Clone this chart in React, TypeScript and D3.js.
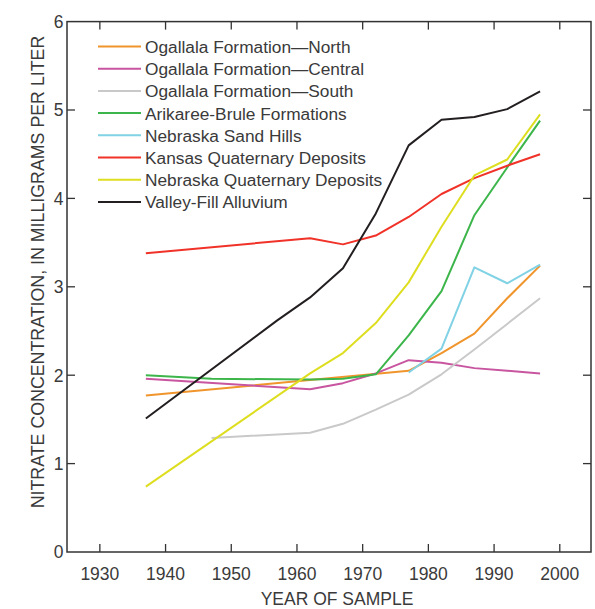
import React from "react";
import * as d3 from "d3";

const seriesNames = [
  "Ogallala Formation\u2014North",
  "Ogallala Formation\u2014Central",
  "Ogallala Formation\u2014South",
  "Arikaree-Brule Formations",
  "Nebraska Sand Hills",
  "Kansas Quaternary Deposits",
  "Nebraska Quaternary Deposits",
  "Valley-Fill Alluvium",
];
const seriesColors = ["#f0952c", "#c8559f", "#c9c9c9", "#3cb54a", "#80d2e4", "#f03228", "#dede20", "#231f20"];

const northYears = [1937, 1977, 1982, 1987, 1992, 1997];
const northValues = [1.77, 2.05, 2.25, 2.47, 2.87, 3.24];

const centralYears = [1937, 1962, 1967, 1972, 1977, 1982, 1987, 1992, 1997];
const centralValues = [1.96, 1.84, 1.91, 2.02, 2.17, 2.14, 2.08, 2.05, 2.02];

const southYears = [1947, 1962, 1967, 1972, 1977, 1982, 1987, 1992, 1997];
const southValues = [1.29, 1.35, 1.45, 1.61, 1.78, 2.01, 2.29, 2.58, 2.87];

const arikareeYears = [1937, 1947, 1962, 1967, 1972, 1977, 1982, 1987, 1992, 1997];
const arikareeValues = [2.0, 1.96, 1.95, 1.96, 2.01, 2.45, 2.95, 3.81, 4.35, 4.88];

const sandHillsYears = [1977, 1982, 1987, 1992, 1997];
const sandHillsValues = [2.03, 2.3, 3.22, 3.04, 3.25];

const kansasYears = [1937, 1962, 1967, 1972, 1977, 1982, 1987, 1992, 1997];
const kansasValues = [3.38, 3.55, 3.48, 3.58, 3.79, 4.05, 4.23, 4.37, 4.5];

const nebQuatYears = [1937, 1962, 1967, 1972, 1977, 1982, 1987, 1992, 1997];
const nebQuatValues = [0.74, 2.02, 2.25, 2.59, 3.05, 3.68, 4.26, 4.44, 4.95];

const valleyYears = [1937, 1957, 1962, 1967, 1972, 1977, 1982, 1987, 1992, 1997];
const valleyValues = [1.51, 2.62, 2.88, 3.21, 3.83, 4.6, 4.89, 4.92, 5.01, 5.21];

const seriesYears = [northYears, centralYears, southYears, arikareeYears, sandHillsYears, kansasYears, nebQuatYears, valleyYears];
const seriesValues = [northValues, centralValues, southValues, arikareeValues, sandHillsValues, kansasValues, nebQuatValues, valleyValues];

const xTicks = [1930, 1940, 1950, 1960, 1970, 1980, 1990, 2000];
const yTicks = [0, 1, 2, 3, 4, 5, 6];

const FONT = "'Liberation Sans', Arial, sans-serif";
const TEXT = "#3a3a3a";
const AXIS = "#333333";

export default function App() {
  const left = 67, right = 591, top = 21.6, bottom = 552;
  const x = d3.scaleLinear().domain([1925, 2004.75]).range([left, right]);
  const y = d3.scaleLinear().domain([0, 6]).range([bottom, top]);
  const line = d3
    .line<[number, number]>()
    .x((d) => x(d[0]))
    .y((d) => y(d[1]));
  const tickLen = 8;

  return (
    <svg width={595} height={609} style={{ position: "absolute", left: 0, top: 0, background: "#fff" }} fontFamily={FONT}>
      <rect x={0} y={0} width={595} height={609} fill="#fff" />
      {seriesNames.map((name, i) => {
        const pts = seriesYears[i].map((yr, j) => [yr, seriesValues[i][j]] as [number, number]);
        return (
          <path key={name} d={line(pts) || ""} fill="none" stroke={seriesColors[i]} strokeWidth={2} strokeLinejoin="round" />
        );
      })}
      <rect x={left} y={top} width={right - left} height={bottom - top} fill="none" stroke={AXIS} strokeWidth={1.5} />
      {xTicks.map((t) => (
        <g key={"x" + t}>
          <line x1={x(t)} x2={x(t)} y1={bottom} y2={bottom - tickLen} stroke={AXIS} strokeWidth={1.3} />
          <line x1={x(t)} x2={x(t)} y1={top} y2={top + tickLen} stroke={AXIS} strokeWidth={1.3} />
          <text x={x(t)} y={580} textAnchor="middle" fontSize={17.5} fill={TEXT}>
            {t}
          </text>
        </g>
      ))}
      {yTicks.map((t) => (
        <g key={"y" + t}>
          {t > 0 && t < 6 && (
            <>
              <line x1={left} x2={left + tickLen} y1={y(t)} y2={y(t)} stroke={AXIS} strokeWidth={1.3} />
              <line x1={right} x2={right - tickLen} y1={y(t)} y2={y(t)} stroke={AXIS} strokeWidth={1.3} />
            </>
          )}
          <text x={63.5} y={y(t) + 6.3} textAnchor="end" fontSize={17.5} fill={TEXT}>
            {t}
          </text>
        </g>
      ))}
      <text x={337} y={605} textAnchor="middle" fontSize={17.5} fill={TEXT}>
        YEAR OF SAMPLE
      </text>
      <text transform={`translate(43.5,272) rotate(-90)`} textAnchor="middle" fontSize={17.8} fill={TEXT}>
        NITRATE CONCENTRATION, IN MILLIGRAMS PER LITER
      </text>
      {seriesNames.map((name, i) => {
        const ry = 46.5 + i * 22.2;
        return (
          <g key={"lg" + i}>
            <line x1={98} x2={141} y1={ry} y2={ry} stroke={seriesColors[i]} strokeWidth={2} />
            <text x={145} y={ry + 6.5} fontSize={17.3} fill={TEXT}>
              {name}
            </text>
          </g>
        );
      })}
    </svg>
  );
}
